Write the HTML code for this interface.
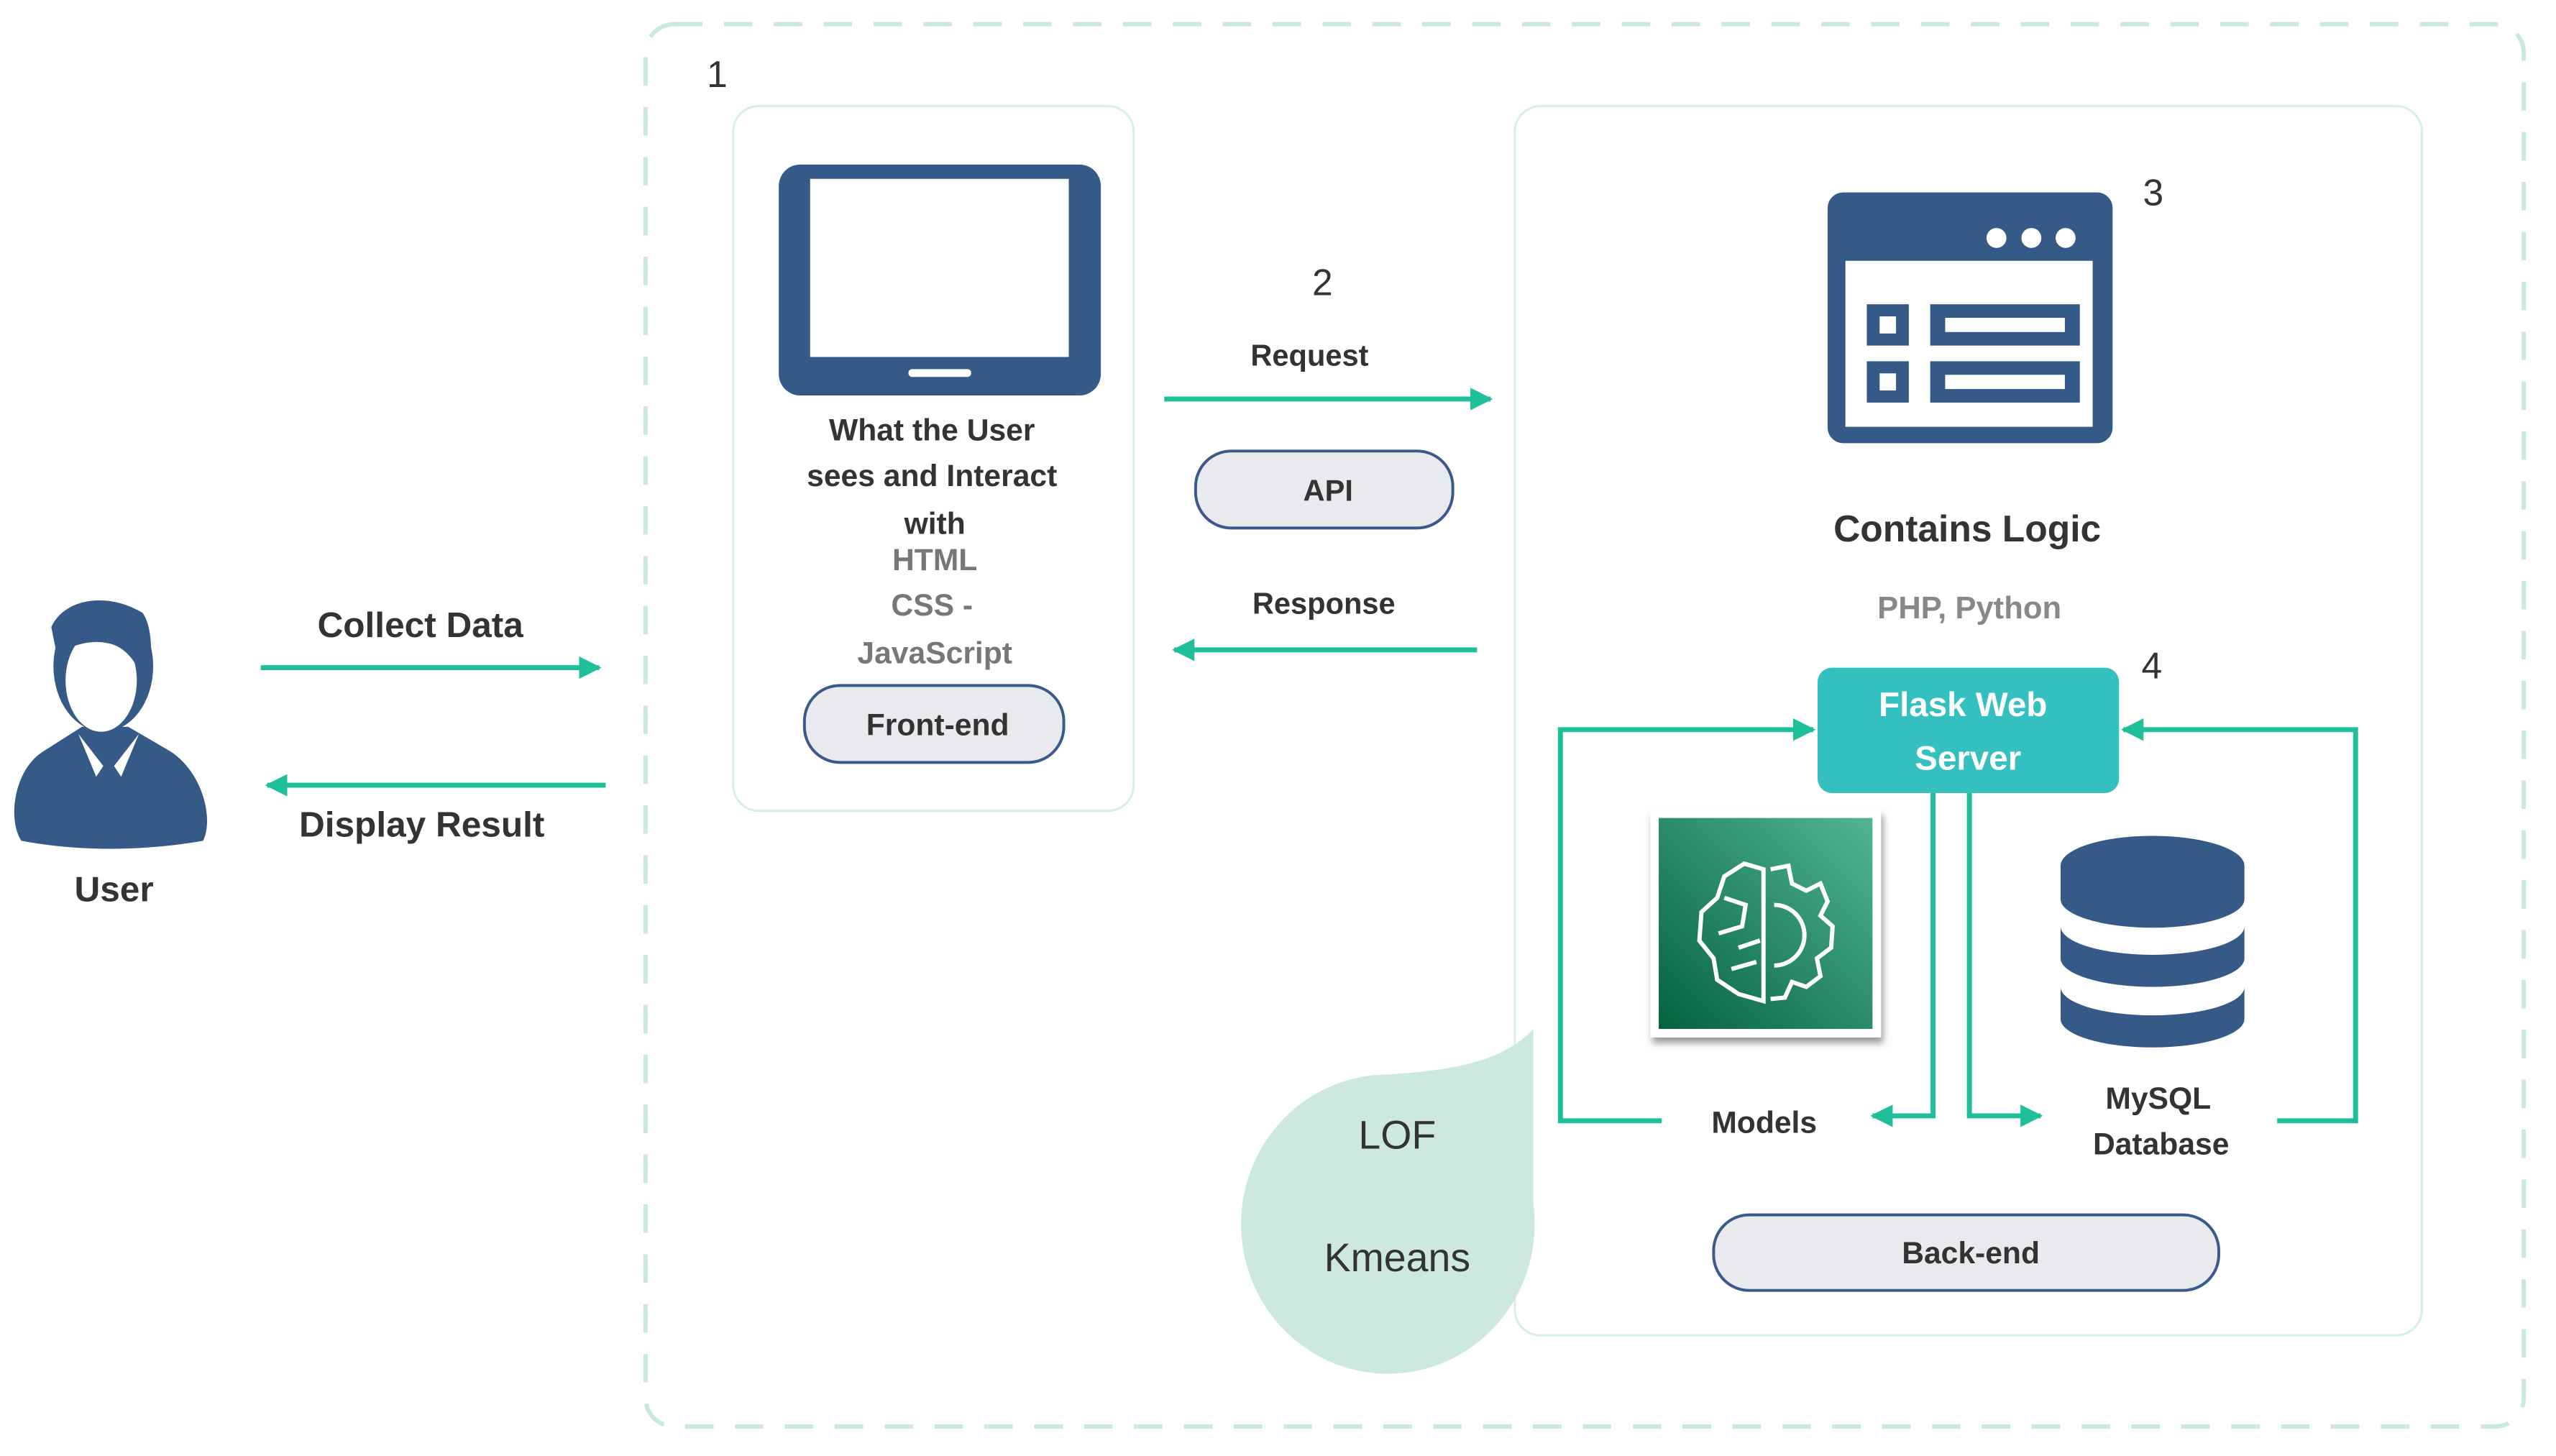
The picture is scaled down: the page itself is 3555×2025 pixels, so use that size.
<!DOCTYPE html>
<html><head><meta charset="utf-8"><style>
html,body{margin:0;padding:0;background:#fff}
svg{display:block}
text{font-family:"Liberation Sans",Arial,sans-serif}
</style></head><body>
<svg width="3555" height="2025" viewBox="0 0 3555 2025" xmlns="http://www.w3.org/2000/svg">
<defs>
<marker id="ar" viewBox="0 0 10 10" refX="9" refY="5" markerWidth="4.5" markerHeight="4.5" orient="auto" markerUnits="strokeWidth"><path d="M0,0 L10,5 L0,10 Z" fill="#1fbf9a"/></marker>
<linearGradient id="gm" x1="0" y1="1" x2="1" y2="0"><stop offset="0" stop-color="#04623f"/><stop offset="1" stop-color="#52b596"/></linearGradient>
<filter id="sh" x="-10%" y="-10%" width="130%" height="130%"><feDropShadow dx="3" dy="8" stdDeviation="5" flood-color="#555" flood-opacity="0.6"/></filter>
</defs>
<g transform="scale(0.991)">
<rect x="906" y="34" width="2636" height="1968" rx="40" fill="none" stroke="#c9e8de" stroke-width="6" stroke-dasharray="40 30"/>
<text x="992" y="122" font-size="52" fill="#333">1</text>

<rect x="1029" y="149" width="562" height="989" rx="36" fill="#fff" stroke="#d5efe7" stroke-width="3"/>
<rect x="1093" y="231" width="452" height="324" rx="30" fill="#365a87"/>
<rect x="1137" y="251" width="363" height="250" fill="#fff"/>
<rect x="1275" y="518" width="88" height="11" rx="5" fill="#fff"/>
<g font-weight="bold" font-size="43" text-anchor="middle">
<text x="1308" y="618" fill="#333">What the User</text>
<text x="1308" y="682" fill="#333">sees and Interact</text>
<text x="1312" y="749" fill="#333">with</text>
<text x="1312" y="800" fill="#777">HTML</text>
<text x="1308" y="864" fill="#777">CSS -</text>
<text x="1312" y="931" fill="#777">JavaScript</text>
</g>
<rect x="1129" y="962" width="364" height="108" rx="50" fill="#e8eaed" stroke="#3a5a8c" stroke-width="4"/>
<text x="1316" y="1032" font-size="43" font-weight="bold" text-anchor="middle" fill="#333">Front-end</text>

<path d="M30,1180 C10,1150 20,1080 60,1055 L115,1020 L180,1020 L240,1055 C285,1085 300,1150 285,1180 C200,1195 110,1195 30,1180 Z" fill="#365a87"/>
<path d="M110,1030 L145,1075 L135,1090 Z M195,1030 L160,1075 L170,1090 Z" fill="#fff"/>
<ellipse cx="145" cy="935" rx="70" ry="92" fill="#365a87"/>
<ellipse cx="142" cy="955" rx="50" ry="72" fill="#fff"/>
<path d="M72,880 C90,840 150,830 200,860 C215,880 215,930 205,960 C195,940 185,915 160,905 C130,895 100,905 80,920 Z" fill="#365a87"/>
<text x="160" y="1265" font-size="50" font-weight="bold" text-anchor="middle" fill="#333">User</text>

<text x="590" y="894" font-size="50" font-weight="bold" text-anchor="middle" fill="#333">Collect Data</text>
<line x1="366" y1="937" x2="841" y2="937" stroke="#1fbf9a" stroke-width="7" marker-end="url(#ar)"/>
<line x1="850" y1="1102" x2="375" y2="1102" stroke="#1fbf9a" stroke-width="7" marker-end="url(#ar)"/>
<text x="592" y="1174" font-size="50" font-weight="bold" text-anchor="middle" fill="#333">Display Result</text>

<text x="1856" y="414" font-size="52" text-anchor="middle" fill="#333">2</text>
<text x="1838" y="513" font-size="42" font-weight="bold" text-anchor="middle" fill="#333">Request</text>
<line x1="1634" y1="560" x2="2092" y2="560" stroke="#1fbf9a" stroke-width="7" marker-end="url(#ar)"/>
<rect x="1678" y="633" width="361" height="108" rx="50" fill="#e8eaed" stroke="#3a5a8c" stroke-width="4"/>
<text x="1864" y="703" font-size="42" font-weight="bold" text-anchor="middle" fill="#333">API</text>
<text x="1858" y="861" font-size="42" font-weight="bold" text-anchor="middle" fill="#333">Response</text>
<line x1="2073" y1="912" x2="1648" y2="912" stroke="#1fbf9a" stroke-width="7" marker-end="url(#ar)"/>

<rect x="2126" y="149" width="1273" height="1725" rx="36" fill="#fff" stroke="#d5efe7" stroke-width="3"/>

<rect x="2565" y="270" width="400" height="352" rx="22" fill="#365a87"/>
<rect x="2590" y="366" width="347" height="233" fill="#fff"/>
<circle cx="2802" cy="334" r="14" fill="#fff"/><circle cx="2851" cy="334" r="14" fill="#fff"/><circle cx="2899" cy="334" r="14" fill="#fff"/>
<rect x="2620" y="427" width="59" height="58" fill="#365a87"/><rect x="2638" y="444" width="23" height="24" fill="#fff"/>
<rect x="2709" y="427" width="210" height="58" fill="#365a87"/><rect x="2730" y="446" width="168" height="20" fill="#fff"/>
<rect x="2620" y="507" width="59" height="58" fill="#365a87"/><rect x="2638" y="524" width="23" height="24" fill="#fff"/>
<rect x="2709" y="507" width="210" height="58" fill="#365a87"/><rect x="2730" y="526" width="168" height="20" fill="#fff"/>
<text x="3022" y="288" font-size="52" text-anchor="middle" fill="#333">3</text>
<text x="2761" y="760" font-size="52" font-weight="bold" text-anchor="middle" fill="#333">Contains Logic</text>
<text x="2764" y="868" font-size="44" font-weight="bold" text-anchor="middle" fill="#888">PHP, Python</text>
<text x="3020" y="952" font-size="52" text-anchor="middle" fill="#333">4</text>

<polyline points="2332,1573 2190,1573 2190,1024 2545,1024" fill="none" stroke="#1fbf9a" stroke-width="7" marker-end="url(#ar)"/>
<polyline points="3196,1573 3306,1573 3306,1024 2980,1024" fill="none" stroke="#1fbf9a" stroke-width="7" marker-end="url(#ar)"/>
<polyline points="2713,1110 2713,1566 2628,1566" fill="none" stroke="#1fbf9a" stroke-width="7" marker-end="url(#ar)"/>
<polyline points="2764,1110 2764,1566 2864,1566" fill="none" stroke="#1fbf9a" stroke-width="7" marker-end="url(#ar)"/>

<rect x="2551" y="937" width="423" height="176" rx="20" fill="#35c0c0"/>
<text x="2755" y="1005" font-size="48" font-weight="bold" text-anchor="middle" fill="#fff">Flask Web</text>
<text x="2762" y="1080" font-size="48" font-weight="bold" text-anchor="middle" fill="#fff">Server</text>

<rect x="2316" y="1136" width="324" height="320" fill="#fff" filter="url(#sh)"/>
<rect x="2328" y="1148" width="300" height="296" fill="url(#gm)"/>
<g fill="none" stroke="#fff" stroke-width="6">
<path d="M2475,1220 L2448,1212 L2420,1230 L2410,1260 L2388,1280 L2385,1320 L2405,1345 L2410,1375 L2440,1395 L2475,1405 Z"/>
<path d="M2420,1260 L2450,1270 L2445,1300 L2412,1310 M2440,1330 L2470,1320 M2430,1360 L2465,1350"/>
<path d="M2485,1220 L2510,1215 L2515,1240 L2535,1250 L2555,1240 L2565,1265 L2555,1285 L2572,1300 L2570,1330 L2550,1345 L2555,1370 L2535,1385 L2515,1378 L2505,1400 L2485,1402"/>
<path d="M2490,1270 A40,40 0 0 1 2490,1355"/>
</g>

<g fill="#365a87">
<path d="M2892,1215 L2892,1262 A129,40 0 0 0 3150,1262 L3150,1215 Z"/>
<ellipse cx="3021" cy="1215" rx="129" ry="42"/>
<path d="M2892,1300 L2892,1345 A129,40 0 0 0 3150,1345 L3150,1300 A129,40 0 0 1 2892,1300 Z"/>
<path d="M2892,1385 L2892,1430 A129,40 0 0 0 3150,1430 L3150,1385 A129,40 0 0 1 2892,1385 Z"/>
</g>
<text x="2476" y="1590" font-size="43" font-weight="bold" text-anchor="middle" fill="#333">Models</text>
<text x="3029" y="1556" font-size="43" font-weight="bold" text-anchor="middle" fill="#333">MySQL</text>
<text x="3033" y="1620" font-size="43" font-weight="bold" text-anchor="middle" fill="#333">Database</text>

<rect x="2405" y="1705" width="709" height="106" rx="50" fill="#e8eaed" stroke="#3a5a8c" stroke-width="4"/>
<text x="2766" y="1773" font-size="43" font-weight="bold" text-anchor="middle" fill="#333">Back-end</text>

<path d="M2152,1444 L2152,1690 A206,210 0 1 1 1946,1508 C2040,1502 2110,1490 2152,1444 Z" fill="#cde8e0"/>
<text x="1961" y="1612" font-size="56" text-anchor="middle" fill="#333">LOF</text>
<text x="1961" y="1784" font-size="56" text-anchor="middle" fill="#333">Kmeans</text>
</g>
</svg>
</body></html>
